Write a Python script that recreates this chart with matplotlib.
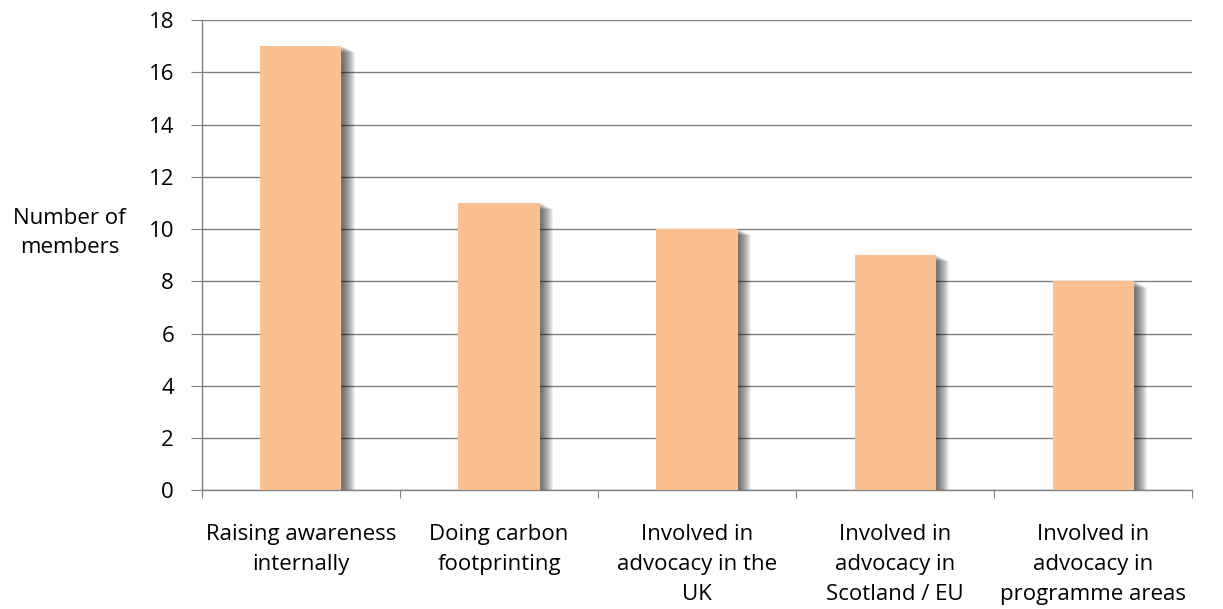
import matplotlib.pyplot as plt
import numpy as np

categories = ["Raising awareness\ninternally", "Doing carbon\nfootprinting",
              "Involved in\nadvocacy in the\nUK", "Involved in\nadvocacy in\nScotland / EU",
              "Involved in\nadvocacy in\nprogramme areas"]
members = [17, 11, 10, 9, 8]

plt.rcParams['font.family'] = ['Open Sans', 'DejaVu Sans']

fig = plt.figure(figsize=(12.23, 6.09), dpi=100)
ax = fig.add_axes([0.165, 0.195, 0.81, 0.772])

x = np.arange(len(categories))
w = 0.41

# soft shadow layers
for k in range(1, 13):
    d = k * 0.005
    ax.bar(x + d + 0.006, np.array(members) - d * 4, width=w, color='#000000',
           alpha=0.06, zorder=2, linewidth=0)

ax.bar(x, members, width=w, color='#FAC090', zorder=3, linewidth=0)

ax.set_xlim(-0.5, len(categories) - 0.5)
ax.set_ylim(0, 18)
ax.set_yticks(range(0, 19, 2))
ax.set_xticks(np.arange(-0.5, len(categories), 1.0))
ax.set_xticklabels([])
ax.set_xticks(x, minor=True)
ax.set_xticklabels(categories, minor=True, fontsize=16, linespacing=1.58)
ax.tick_params(axis='x', which='minor', length=0, pad=24)
ax.tick_params(axis='x', which='major', length=6, color='#808080', direction='out')
ax.tick_params(axis='y', length=8, color='#808080', labelsize=16, pad=12)

ax.yaxis.grid(True, color='#808080', linewidth=1.0, zorder=0)
ax.set_axisbelow(True)
for s in ['top', 'right']:
    ax.spines[s].set_visible(False)
for s in ['left', 'bottom']:
    ax.spines[s].set_color('#808080')
    ax.spines[s].set_linewidth(1.0)

fig.text(0.057, 0.617, "Number of\nmembers", ha='center', va='center', fontsize=16,
         linespacing=1.52)

fig.savefig('out.png', dpi=100)
